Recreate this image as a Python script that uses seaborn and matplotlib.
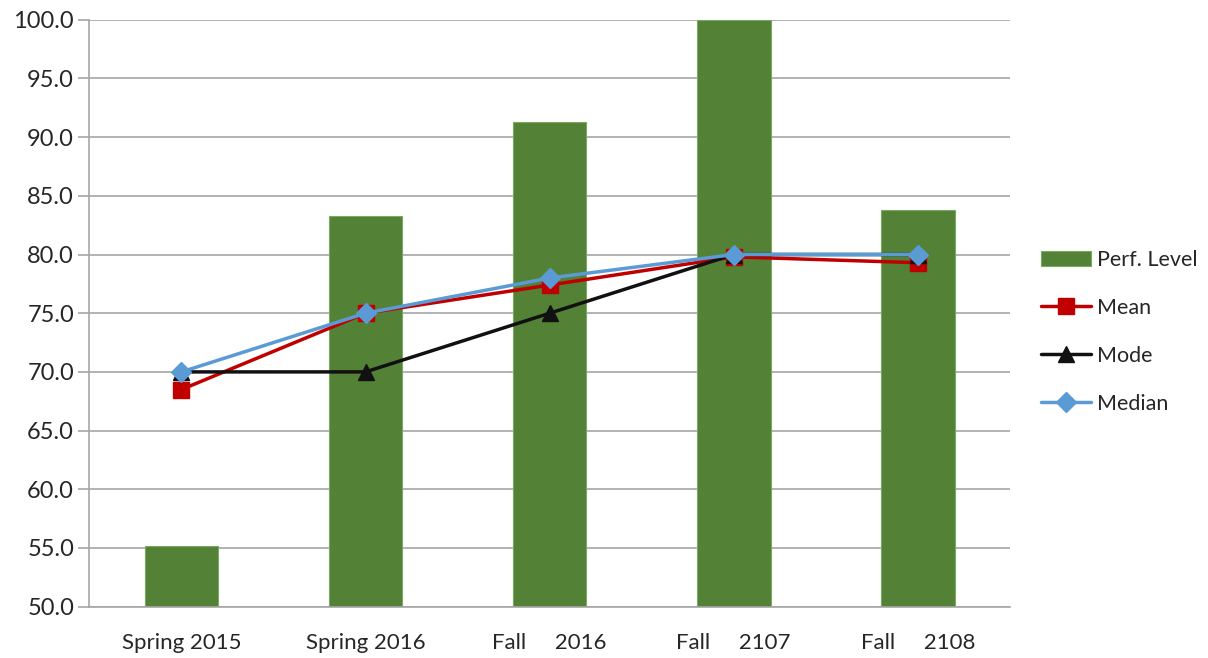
import pandas as pd
import numpy as np
import matplotlib
matplotlib.use('Agg')
import matplotlib.pyplot as plt
import seaborn as sns

# chart data
terms = ['Spring 2015', 'Spring 2016', 'Fall     2016', 'Fall     2107', 'Fall     2108']
perf_level = [55.2, 83.3, 91.3, 100.0, 83.8]
mean_vals = [68.5, 75.0, 77.4, 79.8, 79.3]
mode_vals = [70.0, 70.0, 75.0, 80.0, 80.0]
median_vals = [70.0, 75.0, 78.0, 80.0, 80.0]

sns.set_style('white')
plt.rcParams['font.family'] = ['Lato', 'DejaVu Sans']

df = pd.DataFrame({'term': terms, 'perf': perf_level})

fig = plt.figure(figsize=(12.08, 6.58), dpi=100)
ax = fig.add_axes([0.074, 0.078, 0.762, 0.892])

# bars
sns.barplot(data=df, x='term', y='perf', color='#538135', saturation=1,
            width=0.4, ax=ax, label='Perf. Level', zorder=2,
            edgecolor='#7aa860', linewidth=0.8)

# lines on the same categorical positions
x = np.arange(len(terms))
ax.plot(x, mean_vals, color='#c00000', lw=2.5, marker='s', ms=12,
        label='Mean', zorder=3)
ax.plot(x, mode_vals, color='#111111', lw=2.5, marker='^', ms=12,
        label='Mode', zorder=4)
ax.plot(x, median_vals, color='#5b9bd5', lw=2.5, marker='D', ms=10,
        label='Median', zorder=5)

ax.set_ylim(50, 100)
ax.set_xlim(-0.5, 4.5)
ax.set_yticks(np.arange(50, 100.1, 5))
ax.set_yticklabels([f'{v:.1f}' for v in np.arange(50, 100.1, 5)])
ax.yaxis.grid(True, color='#a6a6a6', lw=1.2)
ax.set_axisbelow(True)
ax.set_xlabel('')
ax.set_ylabel('')

for s in ['top', 'right']:
    ax.spines[s].set_visible(False)
ax.spines['left'].set_color('#a6a6a6')
ax.spines['bottom'].set_color('#a6a6a6')
ax.spines['left'].set_linewidth(1.2)
ax.spines['bottom'].set_linewidth(1.2)

# category dividers as minor ticks below the axis
ax.set_xticks(np.arange(-0.5, 4.6, 1), minor=True)
ax.tick_params(axis='x', which='minor', length=12, color='#a6a6a6', width=1.2)
ax.tick_params(axis='x', which='major', length=0, pad=19, labelsize=16, labelcolor='#262626')
ax.tick_params(axis='y', length=8, color='#a6a6a6', width=1.2, labelsize=17,
               labelcolor='#262626', direction='out', pad=3)
ax.tick_params(axis='y', left=True)

handles, labels = ax.get_legend_handles_labels()
order = [labels.index(n) for n in ['Perf. Level', 'Mean', 'Mode', 'Median']]
ax.legend([handles[i] for i in order], [labels[i] for i in order],
          loc='center left', bbox_to_anchor=(1.013, 0.468), frameon=False,
          fontsize=15.5, labelspacing=1.3, handlelength=2.3, handletextpad=0.3,
          labelcolor='#262626')

fig.savefig('out.png', dpi=100)
